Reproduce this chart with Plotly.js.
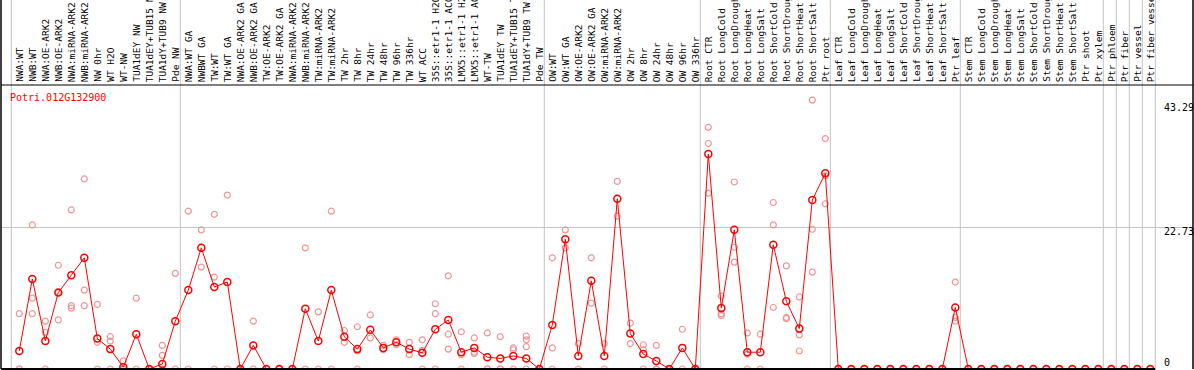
<!DOCTYPE html>
<html>
<head>
<meta charset="utf-8">
<script src="https://cdn.plot.ly/plotly-3.0.1.min.js"></script>
<style>
  html, body { margin: 0; padding: 0; background: #fff; }
  #chart { width: 1194px; height: 370px; }
</style>
</head>
<body>
<div id="chart"></div>
<script>
// ---------------- data ----------------
const geneId = 'Potri.012G132900';

const categories = [
  'NWA:WT', 'NWB:WT', 'NWA:OE-ARK2', 'NWB:OE-ARK2', 'NWA:miRNA-ARK2', 'NWB:miRNA-ARK2',
  'NW 0hr', 'WT H2O', 'WT-NW', 'TUA1dEY NW', 'TUA1dEY+TUB15 NW', 'TUA1dY+TUB9 NW', 'Pde NW',
  'NWA:WT GA', 'NWBWT GA', 'TW:WT', 'TW:WT GA', 'NWA:OE-ARK2 GA', 'NWB:OE-ARK2 GA',
  'TW:OE-ARK2', 'TW:OE-ARK2 GA', 'NWA:miRNA-ARK2', 'NWB:miRNA-ARK2', 'TW:miRNA-ARK2',
  'TW:miRNA-ARK2', 'TW 2hr', 'TW 8hr', 'TW 24hr', 'TW 48hr', 'TW 96hr', 'TW 336hr', 'WT ACC',
  '35S::etr1-1 H2O', '35S::etr1-1 ACC', 'LMX5::etr1-1 H2O', 'LMX5::etr1-1 ACC', 'WT-TW',
  'TUA1dEY TW', 'TUA1dEY+TUB15 TW', 'TUA1dY+TUB9 TW', 'Pde TW',
  'OW:WT', 'OW:WT GA', 'OW:OE-ARK2', 'OW:OE-ARK2 GA', 'OW:miRNA-ARK2', 'OW:miRNA-ARK2',
  'OW 2hr', 'OW 8hr', 'OW 24hr', 'OW 48hr', 'OW 96hr', 'OW 336hr',
  'Root CTR', 'Root LongCold', 'Root LongDrought', 'Root LongHeat', 'Root LongSalt',
  'Root ShortCold', 'Root ShortDrought', 'Root ShortHeat', 'Root ShortSalt', 'Ptr root',
  'Leaf CTR', 'Leaf LongCold', 'Leaf LongDrought', 'Leaf LongHeat', 'Leaf LongSalt',
  'Leaf ShortCold', 'Leaf ShortDrought', 'Leaf ShortHeat', 'Leaf ShortSalt', 'Ptr leaf',
  'Stem CTR', 'Stem LongCold', 'Stem LongDrought', 'Stem LongHeat', 'Stem LongSalt',
  'Stem ShortCold', 'Stem ShortDrought', 'Stem ShortHeat', 'Stem ShortSalt', 'Ptr shoot',
  'Ptr xylem', 'Ptr phloem', 'Ptr fiber', 'Ptr vessel', 'Ptr fiber vessel'
];

// index of the first category of each group (last entry = end)
const groupStarts = [0, 13, 41, 53, 63, 73, 84, 85, 86, 87, 88];

const meanValues = [
  2.9, 14.5, 4.5, 12.3, 15.1, 17.9, 4.9, 3.2, 0.3, 5.6, 0, 0.8, 7.7,
  12.7, 19.5, 13.2, 14.0, 0, 3.8, 0, 0, 0, 9.7, 4.5, 12.7, 5.2, 3.2, 6.3, 3.4, 4.3, 3.2,
  2.6, 6.4, 7.9, 2.7, 3.4, 1.9, 1.7, 2.1, 1.7, 0,
  7.1, 20.9, 2.1, 14.2, 2.1, 27.4, 5.7, 2.4, 1.3, 0, 3.4, 0,
  34.6, 9.8, 22.4, 2.7, 2.7, 20.0, 10.9, 6.5, 27.2, 31.5,
  0, 0, 0, 0, 0, 0, 0, 0, 0, 9.9,
  0, 0, 0, 0, 0, 0, 0, 0, 0, 0,
  0, 0, 0, 0, 0
];

const replicateValues = [
  [8.9, 0, 0], [23.2, 11.4, 8.9], [7.7, 5.9, 0], [16.7, 12.3, 7.9], [25.6, 10.2, 9.8],
  [30.6, 12.7, 10.2], [10.4, 4.3, 0], [5.2, 4.5, 0], [1.3, 0, 0], [11.4, 0], [0, 0],
  [3.8, 2.2, 0], [15.4, 0],
  [25.4, 0], [22.4, 16.4], [24.9, 14.8, 0], [28.0, 0], [0, 0], [7.7, 0], [0, 0], [0, 0],
  [0, 0], [19.5, 0], [9.2, 0], [25.4, 0], [6.2, 4.3], [6.8, 2.9, 0], [8.7, 5.0],
  [3.8, 3.1], [4.7, 3.9], [4.3, 2.3], [4.7, 3.0, 0], [10.5, 8.9, 0], [15.0, 5.6, 3.2],
  [6.0, 2.3, 0], [5.0, 2.5, 2.7], [5.8, 0, 0], [5.2, 0, 0], [3.4, 3.1, 0],
  [5.3, 4.7, 3.6, 0], [0, 0],
  [17.9, 3.4, 0], [22.4, 19.5], [4.1, 0], [17.9, 10.6], [4.1, 0], [30.2, 24.6],
  [7.4, 4.1], [3.9, 3.1, 0], [3.8, 0, 0], [0, 0], [6.4, 0], [0, 0],
  [38.9, 36.3, 28.3], [11.75, 8.9, 8.6], [30.1, 19.6, 17.2], [5.8, 2.4, 0], [5.6, 0],
  [26.8, 23.2, 9.9], [16.6, 8.3, 8.1], [11.6, 5.5, 2.9], [43.29, 22.5, 15.6],
  [37.1, 31.1, 26.6],
  [0, 0], [0, 0], [0, 0], [0, 0], [0, 0], [0, 0], [0, 0], [0, 0], [0, 0], [14.0, 8.3, 7.7],
  [0, 0], [0, 0], [0, 0], [0, 0], [0, 0], [0, 0], [0, 0], [0, 0], [0, 0], [0, 0],
  [0, 0], [0, 0], [0, 0], [0, 0], [0, 0]
];

const yTickVals = [0, 22.73, 43.29];
const yTickText = ['0', '22.73', '43.29'];

// ---------------- build ----------------
const W = 1194, H = 370;
const mL = 1, mR = 1, mT = 0, mB = 1;
const plotW = W - mL - mR, plotH = H - mT - mB;
const firstPx = 19.3, stepPx = 13;          // category spacing in pixels
const pxPerUnit = 141.2 / 22.73;             // vertical scale
const xIdx = categories.map((_, i) => i);

const repX = [], repY = [];
replicateValues.forEach((arr, i) => arr.forEach(v => { repX.push(i); repY.push(v); }));

const xRange = [(mL - firstPx) / stepPx, (mL + plotW - firstPx) / stepPx];
const yRange = [0, plotH / pxPerUnit];
const paperYFromPx = py => (H - mB - py) / plotH;
const paperXFromPx = px => (px - mL) / plotW;

const traces = [
  {
    x: repX, y: repY, type: 'scatter', mode: 'markers',
    marker: { symbol: 'circle-open', size: 6, color: '#ef9696', line: { width: 1.2, color: '#ef9696' } },
    hoverinfo: 'skip'
  },
  {
    x: xIdx, y: meanValues, type: 'scatter', mode: 'lines+markers',
    line: { color: '#ff0000', width: 1 },
    marker: { symbol: 'circle-open', size: 7, color: '#ff0000', line: { width: 1.5, color: '#ff0000' } },
    hoverinfo: 'skip'
  }
];

const shapes = [];
const gridColor = '#c4c4c4';
groupStarts.forEach(s => {
  const xb = s - 0.615;
  shapes.push({ type: 'line', xref: 'x', yref: 'paper', x0: xb, x1: xb, y0: 0, y1: 1,
    line: { color: gridColor, width: 1 }, layer: 'below' });
});
// frame lines
shapes.push({ type: 'line', xref: 'paper', yref: 'paper', x0: 0, x1: 1,
  y0: paperYFromPx(85), y1: paperYFromPx(85), line: { color: '#000', width: 1.2 } });
shapes.push({ type: 'line', xref: 'paper', yref: 'paper', x0: 0, x1: 0, y0: 0, y1: 1,
  line: { color: '#000', width: 1.5 } });
shapes.push({ type: 'line', xref: 'paper', yref: 'paper', x0: 1, x1: 1, y0: 0, y1: 1,
  line: { color: '#000', width: 1.5 } });
shapes.push({ type: 'line', xref: 'paper', yref: 'paper', x0: 0, x1: paperXFromPx(1155.3), y0: 0, y1: 0,
  line: { color: '#000', width: 2 } });

const annotations = [];
const mono = 'DejaVu Sans Mono, Liberation Mono, monospace';
categories.forEach((c, i) => {
  annotations.push({
    text: c, xref: 'x', yref: 'paper', x: i, y: paperYFromPx(83),
    xanchor: 'center', yanchor: 'bottom', textangle: -90, showarrow: false,
    borderpad: 0, font: { family: mono, size: 9.5, color: '#000' }
  });
});
annotations.push({
  text: geneId, xref: 'paper', yref: 'paper', x: paperXFromPx(9), y: paperYFromPx(97),
  xanchor: 'left', yanchor: 'middle', showarrow: false, borderpad: 0,
  font: { family: mono, size: 10, color: '#ff0000' }
});
const tickShift = [7, -4, -7];
yTickVals.forEach((v, k) => {
  annotations.push({
    text: yTickText[k], xref: 'paper', yref: 'y', x: paperXFromPx(1163), y: v,
    xanchor: 'left', yanchor: 'middle', yshift: tickShift[k], showarrow: false, borderpad: 0,
    font: { family: mono, size: 10, color: '#000' }
  });
});

const layout = {
  width: W, height: H,
  margin: { l: mL, r: mR, t: mT, b: mB, pad: 0 },
  paper_bgcolor: '#fff', plot_bgcolor: '#fff',
  showlegend: false, hovermode: false,
  xaxis: { range: xRange, showgrid: false, zeroline: false, showticklabels: false,
    showline: false, ticks: '', fixedrange: true },
  yaxis: { range: yRange, tickvals: [yTickVals[1]], showgrid: true, gridcolor: gridColor,
    gridwidth: 1, zeroline: false, showticklabels: false, showline: false, ticks: '', fixedrange: true },
  shapes: shapes,
  annotations: annotations
};

Plotly.newPlot('chart', traces, layout, { staticPlot: true, displayModeBar: false });
</script>
</body>
</html>
